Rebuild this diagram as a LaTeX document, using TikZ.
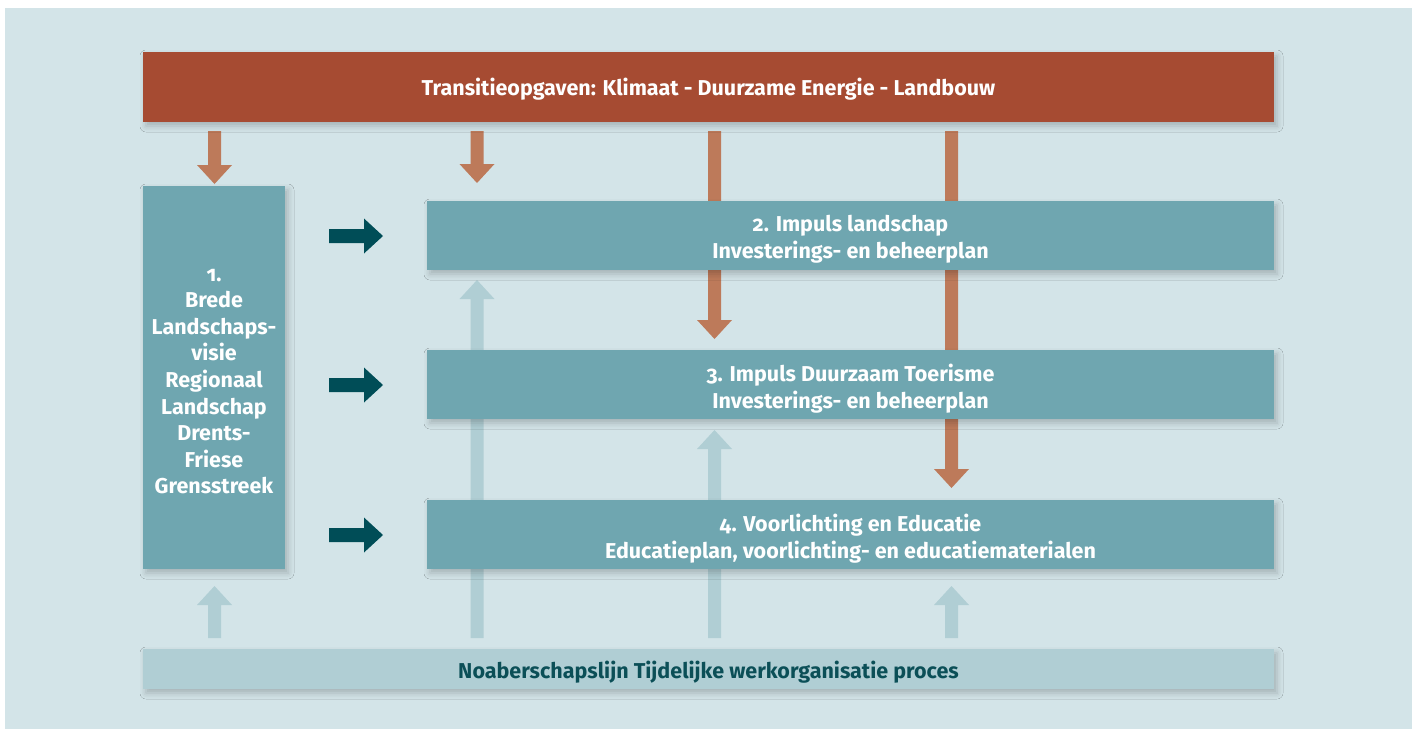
\documentclass[tikz,border=0pt]{standalone}
\usepackage{fontspec}
\setmainfont{Fira Sans}[Numbers=OldStyle]
\usetikzlibrary{shadows.blur}
\definecolor{bgc}{HTML}{D3E4E8}
\definecolor{redbar}{HTML}{A64B32}
\definecolor{redarr}{HTML}{BD7A5A}
\definecolor{tealbox}{HTML}{6FA6B0}
\definecolor{darkteal}{HTML}{004D57}
\definecolor{lightteal}{HTML}{B0CED4}
\definecolor{bottomtxt}{HTML}{0B4F57}
\newcommand\blkdown[4]{\fill[#1] (#2-6.5,#3) -- (#2+6.5,#3) -- (#2+6.5,#4-19) -- (#2+17.5,#4-19) -- (#2,#4) -- (#2-17.5,#4-19) -- (#2-6.5,#4-19) -- cycle;}
\newcommand\blkup[4]{\fill[#1] (#2-6.5,#3) -- (#2+6.5,#3) -- (#2+6.5,#4+19) -- (#2+17.5,#4+19) -- (#2,#4) -- (#2-17.5,#4+19) -- (#2-6.5,#4+19) -- cycle;}
\newcommand\blkright[4]{\fill[#1] (#3,#2-7) -- (#3,#2+7) -- (#4-19,#2+7) -- (#4-19,#2+17.5) -- (#4,#2) -- (#4-19,#2-17.5) -- (#4-19,#2-7) -- cycle;}
\tikzset{
  boxbase/.style={inner sep=0pt, outer sep=0pt,
    blur shadow={shadow xshift=3pt, shadow yshift=-4pt, shadow blur radius=6pt, shadow opacity=22}},
  topbar/.style={boxbase, fill=redbar, minimum width=1131pt, minimum height=70pt},
  tbox/.style={boxbase, fill=tealbox, minimum width=847pt, minimum height=69pt},
  leftbox/.style={boxbase, fill=tealbox, minimum width=142pt, minimum height=383pt},
  bottombar/.style={boxbase, fill=lightteal, minimum width=1131pt, minimum height=40pt},
  boxtext/.style={inner sep=0pt, align=center, text=white, font=\fontsize{21.5}{26.6}\selectfont\bfseries},
  bottomtext/.style={boxtext, text=bottomtxt}
}
\begin{document}
\begin{tikzpicture}[x=1pt,y=-1pt]
\useasboundingbox (0,0) rectangle (1416,729);
\fill[white] (0,0) rectangle (1416,729);
\fill[bgc] (5,8) rectangle (1412,729);
% arrows behind boxes
\blkdown{redarr}{214.5}{131}{184}
\blkdown{redarr}{477}{131}{183}
\blkdown{redarr}{714.5}{131}{339}
\blkdown{redarr}{951.5}{131}{488}
\blkup{lightteal}{214.5}{638}{586}
\blkup{lightteal}{477}{638}{280}
\blkup{lightteal}{714.5}{638}{430}
\blkup{lightteal}{951.5}{638}{586}
\blkright{darkteal}{236}{329}{383}
\blkright{darkteal}{385}{329}{383}
\blkright{darkteal}{535}{329}{383}
% boxes
\node[topbar] (top) at (708.5,87) {};
\node[leftbox] (b1) at (214,377.5) {};
\node[tbox] (b2) at (850.5,235.5) {};
\node[tbox] (b3) at (850.5,384.5) {};
\node[tbox] (b4) at (850.5,534.5) {};
\node[bottombar] (bot) at (708.5,669) {};
% texts
\node[boxtext] (topt) at ([yshift=-2pt]top.center) {Transitieopgaven: Klimaat - Duurzame Energie - Landbouw};
\node[boxtext] (b1t) at ([yshift=-4pt]b1.center) {1.\\Brede\\Landschaps-\\visie\\Regionaal\\Landschap\\Drents-\\Friese\\Grensstreek};
\node[boxtext] (b2t) at ([yshift=-4pt]b2.center) {2. Impuls landschap\\Investerings- en beheerplan};
\node[boxtext] (b3t) at ([yshift=-4pt]b3.center) {3. Impuls Duurzaam Toerisme\\Investerings- en beheerplan};
\node[boxtext] (b4t) at ([yshift=-4pt]b4.center) {4. Voorlichting en Educatie\\Educatieplan, voorlichting- en educatiematerialen};
\node[bottomtext] (bott) at ([yshift=-3pt]bot.center) {Noaberschapslijn Tijdelijke werkorganisatie proces};
\end{tikzpicture}
\end{document}
